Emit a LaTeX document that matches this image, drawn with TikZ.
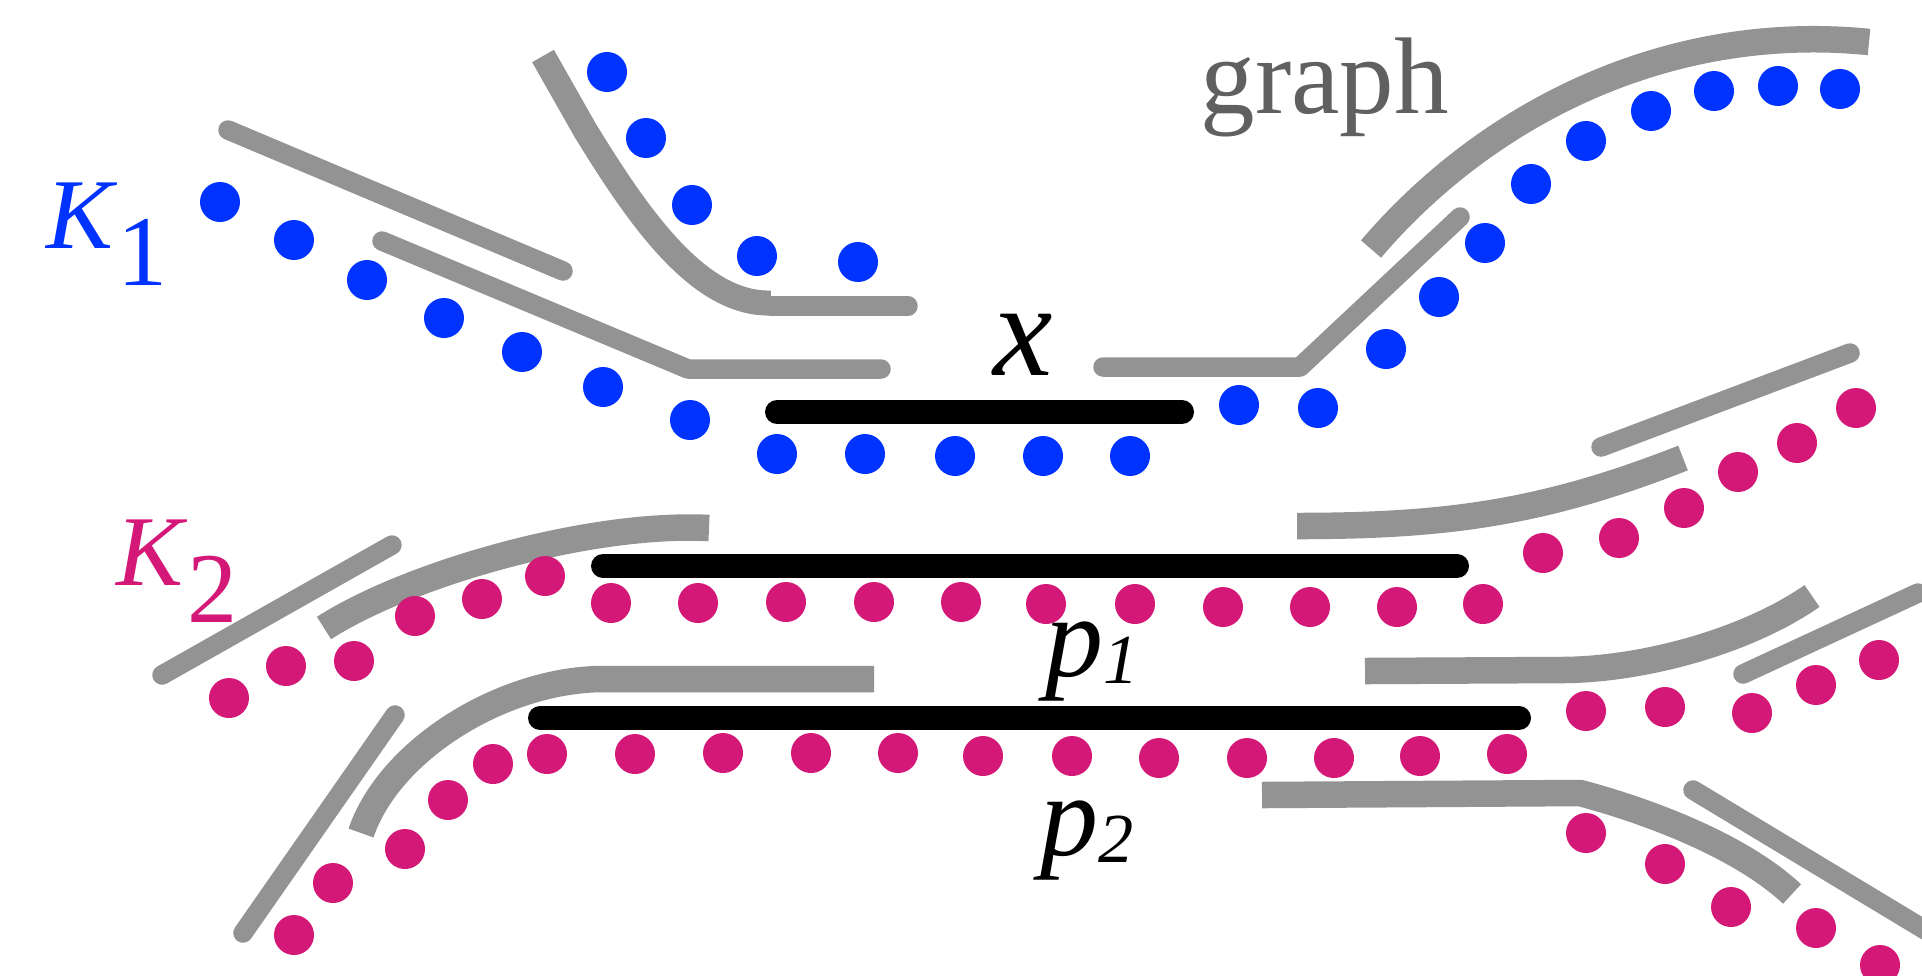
\documentclass[tikz,border=0pt]{standalone}
\usepackage{fontspec}
\setmainfont{Liberation Serif}
\definecolor{dotblue}{RGB}{0,51,255}
\definecolor{dotpink}{RGB}{212,24,120}
\definecolor{railgrey}{RGB}{147,147,147}
\definecolor{labelgrey}{RGB}{96,96,96}
\begin{document}
\begin{tikzpicture}[x=0.01cm, y=-0.01cm,
		greyline/.style={draw=railgrey, line width=1.95mm, line cap=round, line join=round},
		greyband/.style={draw=railgrey, line width=2.65mm, line cap=butt},
		blackbar/.style={draw=black, line width=2.4mm, line cap=round},
		lbl/.style={inner sep=0pt, anchor=base west}]
	\useasboundingbox (0,0) rectangle (1922,975);
	\clip (0,0) rectangle (1922,975);
	% upper rails
	\draw[greyline] (228,130) -- (563,271);
	\draw[greyline] (382,241) -- (688,369) -- (881,369);
	\draw[greyline] (772,306) -- (908,306);
	\draw[greyband, line width=2.5mm] (543,56) -- (585,130) .. controls (640,220) and (700,305) .. (771,303);
	\draw[greyline] (1103,367) -- (1300,367) -- (1460,217);
	\draw[greyband] (1371,249) .. controls (1488,112) and (1669,22) .. (1869,42);
	\draw[greyline] (1601,447) -- (1850,353);
	% lower rails
	\draw[greyband] (1297,526) .. controls (1447,526) and (1543,513) .. (1683,458);
	\draw[greyband] (324,628) .. controls (408,574) and (589,522) .. (709,528);
	\draw[greyline] (392,545) -- (162,675);
	\draw[greyband] (361,833) .. controls (390,748) and (506,678) .. (606,679) -- (874,679);
	\draw[greyline] (395,715) -- (243,933);
	\draw[greyband] (1365,671) -- (1561,670) .. controls (1641,670) and (1746,642) .. (1812,596);
	\draw[greyline] (1743,674) -- (1918,593);
	\draw[greyband] (1262,795) -- (1580,793) .. controls (1648,811) and (1741,846) .. (1792,894);
	\draw[greyline] (1693,790) -- (1960,951);
	% black bars
	\draw[blackbar] (777,412) -- (1182,412);
	\draw[blackbar] (603,566) -- (1457,566);
	\draw[blackbar] (540,718) -- (1519,718);
	% blue chain
	\foreach \pos in {(220,202),(294,240),(367,280),(444,318),(522,352),(603,387),(690,420),
			(777,454),(865,454),(955,456),(1043,456),(1130,456),(1239,405),(1318,408),
			(1386,349),(1439,297),(1485,243),(1531,184),(1586,141),(1651,111),(1714,91),(1778,86),(1840,89),
			(607,72),(646,138),(692,205),(757,256),(858,262)}
		\fill[dotblue] \pos circle[radius=2mm];
	% pink chains
	\foreach \pos in {(229,698),(286,666),(354,661),(415,616),(482,599),(545,576),
			(611,603),(698,603),(786,602),(874,602),(961,602),(1046,604),(1135,604),(1223,607),(1310,607),(1397,607),(1483,604),
			(1543,553),(1619,538),(1684,508),(1738,472),(1797,443),(1856,408)}
		\fill[dotpink] \pos circle[radius=2mm];
	\foreach \pos in {(294,935),(333,883),(405,849),(448,800),(493,764),
			(547,754),(635,754),(723,753),(811,753),(898,753),(983,756),(1072,756),(1159,758),(1247,758),(1334,758),(1420,756),(1507,754),
			(1586,711),(1665,707),(1752,713),(1816,685),(1879,660),
			(1586,833),(1665,864),(1731,907),(1816,928),(1880,965)}
		\fill[dotpink] \pos circle[radius=2mm];
	% labels
	\node[lbl, text=dotblue, font=\fontsize{28.5}{30}\selectfont] (kone) at (46,248) {\textit{K}\raisebox{-0.37em}{1}};
	\node[lbl, text=dotpink, font=\fontsize{28.5}{30}\selectfont] (ktwo) at (116,585) {\textit{K}\raisebox{-0.37em}{2}};
	\node[lbl, font=\fontsize{38}{40}\selectfont] (xlabel) at (993,375) {\textit{x}};
	\node[lbl, font=\fontsize{33}{36}\selectfont] (pone) at (1045,676) {\textit{p}\raisebox{-2pt}{\fontsize{20}{22}\selectfont\textit{1}}};
	\node[lbl, font=\fontsize{33}{36}\selectfont] (ptwo) at (1040,855) {\textit{p}\raisebox{-2pt}{\fontsize{20}{22}\selectfont\textit{2}}};
	\node[lbl, text=labelgrey, font=\fontsize{31}{34}\selectfont] (graphlabel) at (1200,113) {graph};
\end{tikzpicture}
\end{document}
